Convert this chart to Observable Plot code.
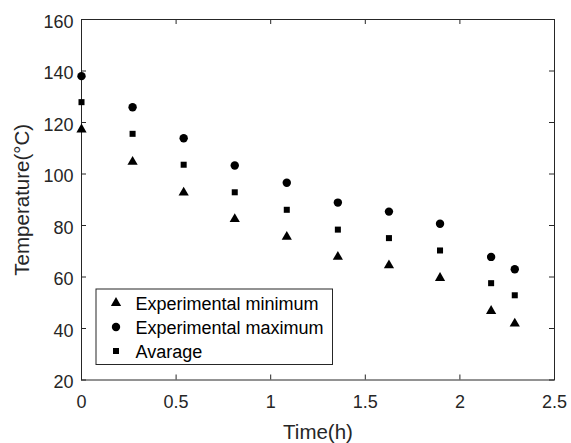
<!DOCTYPE html>
<html>
<head>
<meta charset="utf-8">
<script src="https://cdn.jsdelivr.net/npm/d3@7"></script>
<script src="https://cdn.jsdelivr.net/npm/@observablehq/plot@0.6"></script>
<style>
  html, body { margin: 0; padding: 0; background: #ffffff; }
  #chart svg { display: block; }
</style>
</head>
<body>
<div id="chart"></div>
<script>
// ---- data ----
const time = [0, 0.27, 0.54, 0.81, 1.085, 1.355, 1.625, 1.895, 2.165, 2.29];
const tempMin = [117.3, 104.7, 92.8, 82.5, 75.6, 67.8, 64.5, 59.6, 46.8, 41.9];
const tempMax = [138.0, 125.9, 113.9, 103.3, 96.6, 88.9, 85.4, 80.7, 67.8, 63.0];
const tempAvg = [127.9, 115.6, 103.6, 92.9, 86.1, 78.4, 75.1, 70.3, 57.6, 52.9];
const seriesNames = ["Experimental minimum", "Experimental maximum", "Avarage"];
const seriesSymbols = ["triangle", "circle", "square"];
const xTicks = [0, 0.5, 1, 1.5, 2, 2.5];
const yTicks = [20, 40, 60, 80, 100, 120, 140, 160];
const xLabel = "Time(h)";
const yLabel = "Temperature(°C)";

// ---- build ----
const rows = time.map((t, i) => ({t, min: tempMin[i], max: tempMax[i], avg: tempAvg[i]}));
const ink = "#262626";
const font = "'Liberation Sans', Arial, Helvetica, sans-serif";
const symR = {triangle: 3.8, circle: 4.2, square: 3.4};
const W = 571, H = 443, mL = 81, mR = 17, mT = 19, mB = 63.5;
const innerW = W - mL - mR, innerH = H - mT - mB, tickLen = 5;

const plot = Plot.plot({
  width: W,
  height: H,
  marginLeft: mL,
  marginRight: mR,
  marginTop: mT,
  marginBottom: mB,
  style: {fontFamily: font, fontSize: "18px", color: ink, background: "#ffffff", overflow: "visible"},
  x: {domain: [0, 2.5]},
  y: {domain: [20, 160]},
  marks: [
    // tick labels
    Plot.axisX(xTicks, {anchor: "bottom", tickSize: 0, tickPadding: 15.5, tickFormat: d => String(d), label: null, fontSize: 18}),
    Plot.axisY(yTicks, {anchor: "left", tickSize: 0, tickPadding: 8, dy: 2.5, tickFormat: d => String(d), label: null, fontSize: 18}),
    // inward tick marks on all four sides
    Plot.tickX(xTicks, {x: d => d, stroke: ink, insetTop: innerH - tickLen}),
    Plot.tickX(xTicks, {x: d => d, stroke: ink, insetBottom: innerH - tickLen}),
    Plot.tickY(yTicks, {y: d => d, stroke: ink, insetRight: innerW - tickLen}),
    Plot.tickY(yTicks, {y: d => d, stroke: ink, insetLeft: innerW - tickLen}),
    // axis titles
    Plot.axisX([], {anchor: "bottom", tickSize: 0, label: xLabel, labelAnchor: "center", labelArrow: "none", labelOffset: 59, fontSize: 20.5}),
    Plot.axisY([], {anchor: "left", tickSize: 0, label: yLabel, labelAnchor: "center", labelArrow: "none", labelOffset: 67, fontSize: 20.5}),
    Plot.frame({stroke: ink, strokeWidth: 1}),
    Plot.dot(rows, {x: "t", y: "avg", symbol: "square", r: symR.square, fill: "black", stroke: "none"}),
    Plot.dot(rows, {x: "t", y: "min", symbol: "triangle", r: symR.triangle, fill: "black", stroke: "none"}),
    Plot.dot(rows, {x: "t", y: "max", symbol: "circle", r: symR.circle, fill: "black", stroke: "none"})
  ]
});

document.getElementById("chart").appendChild(plot);

// ---- legend inside the axes (lower-left), positioned relative to the frame ----
const xs = plot.scale("x"), ys = plot.scale("y");
const fL = Math.min(...xs.range), fB = Math.max(...ys.range);
const svg = d3.select(plot.tagName.toLowerCase() === "svg" ? plot : plot.querySelector("svg"));
const lg = svg.append("g").attr("font-family", font).attr("font-size", 18).attr("text-anchor", "start");
lg.append("rect")
  .attr("x", fL + 15).attr("y", fB - 90.5)
  .attr("width", 236.5).attr("height", 75.5)
  .attr("fill", "#ffffff").attr("stroke", ink).attr("stroke-width", 1);
const d3Sym = {triangle: d3.symbolTriangle, circle: d3.symbolCircle, square: d3.symbolSquare};
seriesNames.forEach((name, i) => {
  const cy = fB - 76.5 + i * 24;
  const s = seriesSymbols[i];
  lg.append("path")
    .attr("transform", `translate(${fL + 35},${cy})`)
    .attr("d", d3.symbol(d3Sym[s], Math.PI * symR[s] * symR[s])())
    .attr("fill", "black");
  lg.append("text")
    .attr("x", fL + 54.5).attr("y", cy).attr("dy", "0.38em")
    .attr("text-anchor", "start")
    .attr("fill", "#000000")
    .text(name);
});
</script>
</body>
</html>
